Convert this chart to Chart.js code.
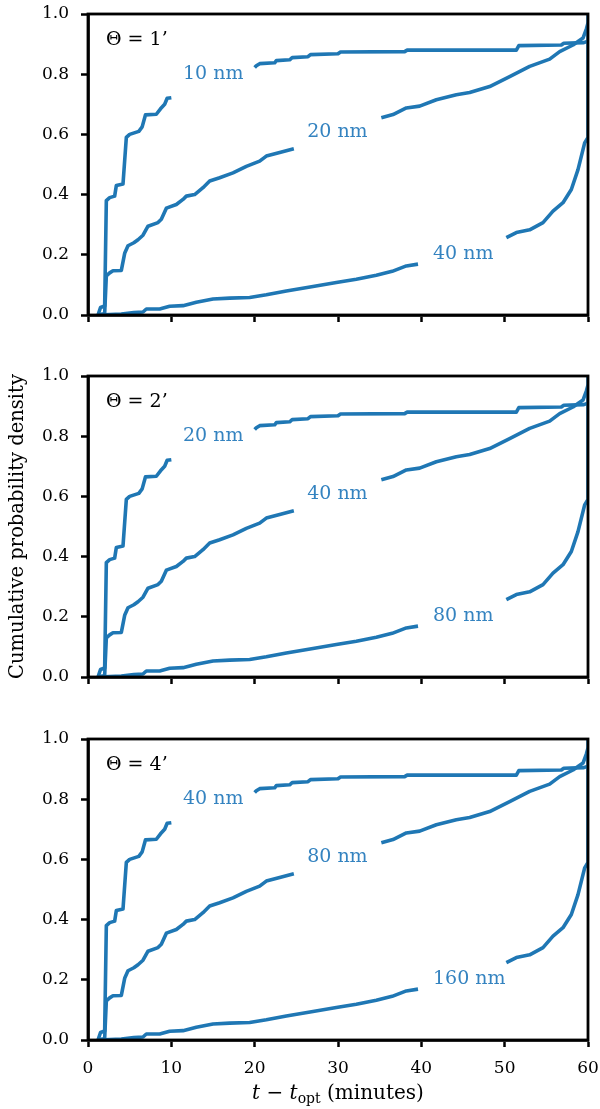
<!DOCTYPE html>
<html><head><meta charset="utf-8">
<script src="https://cdn.jsdelivr.net/npm/chart.js@4"></script>
<style>
html,body{margin:0;padding:0;background:#fff;}
#wrap{position:relative;width:600px;height:1109px;overflow:hidden;}
canvas{position:absolute;left:0;}
</style></head>
<body><div id="wrap">
<canvas id="c0" width="600" height="329" style="top:0px"></canvas>
<canvas id="c1" width="600" height="329" style="top:362px"></canvas>
<canvas id="c2" width="600" height="384" style="top:725px"></canvas>
</div>
<script>
// ---- data ----
const xTicks = [0, 10, 20, 30, 40, 50, 60];
const yTicks = [0, 0.2, 0.4, 0.6, 0.8, 1.0];
const yTickLabels = ['0.0', '0.2', '0.4', '0.6', '0.8', '1.0'];

// top curve (smallest size); null marks the gap left for the label
const curveA_x = [1.2, 1.5, 2.0, 2.2, 2.6, 3.2, 3.4, 4.2, 4.6, 5.0, 6.1, 6.5, 6.9, 8.2, 8.7, 9.2, 9.5, 10.0,
  15.0,
  20.0, 20.2, 20.6, 22.4, 22.6, 24.2, 24.5, 26.4, 26.7, 30.0, 30.3, 38.0, 38.3, 51.4, 51.7, 56.8, 57.1, 59.5, 60.0];
const curveA_y = [0.0, 0.025, 0.03, 0.38, 0.39, 0.395, 0.43, 0.435, 0.59, 0.60, 0.61, 0.625, 0.665, 0.667, 0.685, 0.70, 0.72, 0.722,
  null,
  0.822, 0.828, 0.835, 0.838, 0.845, 0.848, 0.855, 0.858, 0.865, 0.868, 0.874, 0.875, 0.88, 0.88, 0.895, 0.897, 0.903, 0.905, 0.91];

// middle curve
const curveB_x = [1.2, 2.0, 2.2, 2.6, 3.0, 4.0, 4.4, 4.8, 5.5, 6.0, 6.6, 7.2, 8.4, 8.8, 9.4, 10.6, 11.4, 11.8, 12.8, 13.8, 14.6, 15.8, 17.4, 19.0, 20.6, 21.4, 23.0, 24.7,
  30.0,
  35.2, 36.6, 38.2, 39.8, 41.8, 44.2, 45.8, 48.2, 50.6, 53.0, 55.4, 56.6, 58.2, 59.4, 59.8, 60.0];
const curveB_y = [0.0, 0.005, 0.13, 0.14, 0.147, 0.148, 0.205, 0.23, 0.24, 0.25, 0.265, 0.295, 0.307, 0.318, 0.355, 0.367, 0.384, 0.395, 0.40, 0.423, 0.445, 0.456, 0.472, 0.494, 0.511, 0.528, 0.54, 0.552,
  null,
  0.655, 0.666, 0.688, 0.694, 0.715, 0.732, 0.739, 0.759, 0.792, 0.826, 0.85, 0.875, 0.897, 0.92, 0.95, 0.97];

// bottom curve (largest size)
const curveC_x = [1.2, 4.0, 5.5, 6.6, 7.0, 8.6, 9.8, 11.4, 13.0, 15.0, 17.0, 19.4, 21.4, 23.8, 27.0, 29.8, 32.2, 34.6, 36.5, 38.2, 39.6,
  45.0,
  50.2, 51.4, 53.0, 54.6, 55.8, 57.0, 58.0, 58.8, 59.6, 60.0, 60.0];
const curveC_y = [0.0, 0.003, 0.008, 0.01, 0.02, 0.02, 0.029, 0.031, 0.042, 0.053, 0.056, 0.058, 0.067, 0.08, 0.095, 0.108, 0.119, 0.132, 0.145, 0.163, 0.169,
  null,
  0.257, 0.274, 0.283, 0.307, 0.345, 0.373, 0.417, 0.483, 0.572, 0.59, 1.0];

const panelTitles = ['Θ = 1’', 'Θ = 2’', 'Θ = 4’'];
const seriesLabels = [
  ['10 nm', '20 nm', '40 nm'],
  ['20 nm', '40 nm', '80 nm'],
  ['40 nm', '80 nm', '160 nm']
];
const xTitle = ['t', ' − ', 't', 'opt', ' (minutes)'];
const yTitle = 'Cumulative probability density';

// ---- styling / layout ----
const BLUE = '#1f77b4';
const LABEL_BLUE = '#3483c0';
const SERIF = '"DejaVu Serif", serif';
const labelAnchors = [[11.4, 0.80], [26.3, 0.607], [41.4, 0.203]]; // data coords of label left/middle

function toPoints(xs, ys) { return xs.map((x, i) => ({x: x, y: ys[i]})); }

const framePlugin = {
  id: 'frame',
  afterDatasetsDraw(chart) {
    const {ctx, chartArea: a} = chart;
    ctx.save();
    ctx.strokeStyle = '#000';
    ctx.lineWidth = 2.8;
    ctx.strokeRect(a.left, a.top, a.right - a.left, a.bottom - a.top);
    ctx.restore();
  }
};

function labelPlugin(p) {
  return {
    id: 'labels' + p,
    afterDraw(chart) {
      const {ctx, chartArea: a} = chart;
      const xs = chart.scales.x, ys = chart.scales.y;
      ctx.save();
      ctx.textBaseline = 'middle';
      ctx.textAlign = 'left';
      ctx.font = '19px ' + SERIF;
      ctx.fillStyle = '#000';
      ctx.fillText(panelTitles[p], a.left + 18, a.top + 26);
      ctx.fillStyle = LABEL_BLUE;
      seriesLabels[p].forEach((t, i) => {
        ctx.fillText(t, xs.getPixelForValue(labelAnchors[i][0]), ys.getPixelForValue(labelAnchors[i][1]));
      });
      if (p === 2) {
        // x axis title with italic t and subscript "opt"
        const parts = [
          {t: xTitle[0], f: 'italic 20px ' + SERIF, dy: 0},
          {t: xTitle[1], f: '20px ' + SERIF, dy: 0},
          {t: xTitle[2], f: 'italic 20px ' + SERIF, dy: 0},
          {t: xTitle[3], f: '14px ' + SERIF, dy: 4},
          {t: xTitle[4], f: '20px ' + SERIF, dy: 0}
        ];
        let w = 0;
        parts.forEach(pt => { ctx.font = pt.f; pt.w = ctx.measureText(pt.t).width; w += pt.w; });
        let x = (a.left + a.right) / 2 - w / 2;
        const y = a.bottom + 59;
        ctx.fillStyle = '#000';
        ctx.textBaseline = 'alphabetic';
        parts.forEach(pt => { ctx.font = pt.f; ctx.fillText(pt.t, x, y + pt.dy); x += pt.w; });
      }
      ctx.restore();
    }
  };
}

function makeChart(id, p) {
  const last = p === 2;
  const ds = [[curveA_x, curveA_y], [curveB_x, curveB_y], [curveC_x, curveC_y]].map(c => ({
    data: toPoints(c[0], c[1]),
    borderColor: BLUE,
    borderWidth: 3.6,
    pointRadius: 0,
    tension: 0,
    spanGaps: false,
    fill: false,
    clip: 0,
    borderJoinStyle: 'round'
  }));
  new Chart(document.getElementById(id), {
    type: 'line',
    data: {datasets: ds},
    options: {
      responsive: false,
      maintainAspectRatio: false,
      animation: false,
      devicePixelRatio: 1,
      layout: {padding: {left: 0, right: 12, top: 14, bottom: 0}},
      plugins: {legend: {display: false}, tooltip: {enabled: false}},
      scales: {
        x: {
          type: 'linear', min: 0, max: 60,
          afterBuildTicks: s => { s.ticks = xTicks.map(v => ({value: v})); },
          ticks: {display: last, color: '#000', font: {family: SERIF, size: 17}, padding: 11, maxRotation: 0, autoSkip: false},
          grid: {drawOnChartArea: false, drawTicks: true, tickLength: 7, tickWidth: 2.5, tickColor: '#000'},
          border: {display: true, color: '#000', width: 2.8},
          afterFit: s => { s.height = last ? 69 : 14; s.paddingLeft = 0; s.paddingRight = 0; }
        },
        y: {
          type: 'linear', min: 0, max: 1,
          afterBuildTicks: s => { s.ticks = yTicks.map(v => ({value: v})); },
          ticks: {color: '#000', font: {family: SERIF, size: 17}, padding: 12, autoSkip: false,
            callback: (v, i) => yTickLabels[i]},
          grid: {drawOnChartArea: false, drawTicks: true, tickLength: 7, tickWidth: 2.5, tickColor: '#000'},
          border: {display: true, color: '#000', width: 2.8},
          title: {display: p === 1, text: yTitle, color: '#000', font: {family: SERIF, size: 19.5}, padding: {top: 6, bottom: 0}},
          afterFit: s => { s.width = 88; s.paddingTop = 0; s.paddingBottom = 0; }
        }
      }
    },
    plugins: [framePlugin, labelPlugin(p)]
  });
}
makeChart('c0', 0);
makeChart('c1', 1);
makeChart('c2', 2);
</script>
</body></html>
